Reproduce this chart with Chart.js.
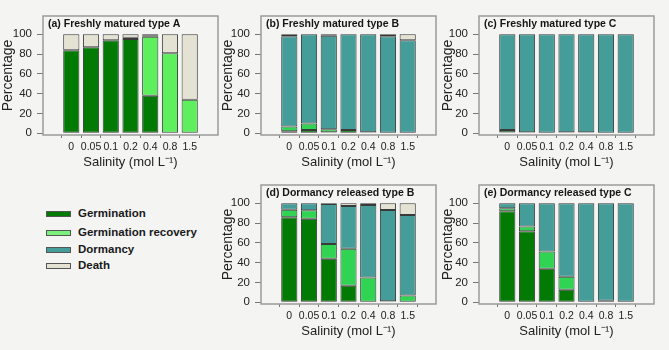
<!DOCTYPE html>
<html>
<head>
<meta charset="utf-8">
<script src="https://cdn.jsdelivr.net/npm/chart.js@4.4.1/dist/chart.umd.min.js"></script>
<style>
  body { margin: 0; background: #f4f4f3; font-family: "Liberation Sans", Arial, sans-serif; }
  #wrap { position: relative; width: 669px; height: 350px; overflow: hidden; }
  canvas { position: absolute; }
  .leg { position: absolute; left: 46px; font-weight: bold; font-size: 11.5px; color: #1a1a1a; }
  .leg span.sw { display: inline-block; width: 23px; height: 4px; border: 1px solid #555; vertical-align: middle; margin-right: 7px; }
</style>
</head>
<body>
<div id="wrap">
  <canvas id="pa" width="220" height="170" style="left:0;top:0"></canvas>
  <canvas id="pb" width="220" height="170" style="left:220px;top:0"></canvas>
  <canvas id="pc" width="229" height="170" style="left:440px;top:0"></canvas>
  <canvas id="pd" width="220" height="170" style="left:220px;top:169px"></canvas>
  <canvas id="pe" width="229" height="170" style="left:440px;top:169px"></canvas>

  <div class="leg" style="top:207px"><span class="sw" style="background:#037a03"></span>Germination</div>
  <div class="leg" style="top:226px"><span class="sw" style="background:#7cf07c"></span>Germination recovery</div>
  <div class="leg" style="top:243px"><span class="sw" style="background:#449d98"></span>Dormancy</div>
  <div class="leg" style="top:259px"><span class="sw" style="background:#e4e2d2"></span>Death</div>
</div>
<script>
// salinity levels (mol L-1)
var salinity = ['0', '0.05', '0.1', '0.2', '0.4', '0.8', '1.5'];
var yTicks = [0, 20, 40, 60, 80, 100];

// (a) Freshly matured type A
var germA  = [84, 87, 94, 95.3, 38, 0, 0];
var recA   = [0, 0, 0, 1.3, 59.5, 81, 34];
var dormA  = [0, 0, 0, 0, 1.5, 0, 0];
var deathA = [16, 13, 6, 3.4, 1, 19, 66];

// (b) Freshly matured type B
var germB  = [2, 3.4, 1, 3.4, 1, 0, 0];
var recB   = [5, 6.6, 3, 0, 0, 0, 0];
var dormB  = [91, 90, 94.6, 96.6, 99, 98, 94];
var deathB = [2, 0, 1.4, 0, 0, 2, 6];

// (c) Freshly matured type C
var germC  = [1, 0, 0, 1, 1, 0, 0];
var recC   = [2.4, 1, 0, 0, 0, 0, 0];
var dormC  = [96.6, 99, 100, 99, 99, 100, 100];
var deathC = [0, 0, 0, 0, 0, 0, 0];

// (d) Dormancy released type B
var germD  = [86, 84.3, 44, 16.7, 0, 0, 0];
var recD   = [7.6, 8.7, 15, 37.5, 25, 1, 7];
var dormD  = [6.4, 7, 40.3, 43, 73.3, 92.3, 81.3];
var deathD = [0, 0, 0.7, 2.8, 1.7, 6.7, 11.7];

// (e) Dormancy released type C
var germE  = [92, 71.9, 33.8, 12.6, 0, 0, 0];
var recE   = [3, 4.6, 17.5, 13.2, 0, 1.5, 0];
var dormE  = [5, 23.5, 48.7, 74.2, 100, 98.5, 100];
var deathE = [0, 0, 0, 0, 0, 0, 0];

var FONT = '"Liberation Sans", Arial, sans-serif';

// frame around the plot area + panel title inside it
var framePlugin = {
    id: 'frame',
    afterDatasetsDraw: function (chart) {
        var a = chart.chartArea, ctx = chart.ctx;
        ctx.save();
        ctx.strokeStyle = '#9a9a9a';
        ctx.lineWidth = 1.5;
        ctx.strokeRect(a.left, a.top, a.right - a.left, a.bottom - a.top);
        ctx.fillStyle = '#151515';
        ctx.font = 'bold 10.5px ' + FONT;
        ctx.textBaseline = 'middle';
        ctx.fillText(chart.options.plugins.frame.text, a.left + 5, a.top + 8);
        ctx.restore();
    }
};

// zero segments are left out so no stray outline is drawn
function pts(arr) {
    return arr.map(function (v, i) { return { x: i, y: v === 0 ? null : v }; });
}

function makePanel(id, title, germ, rec, dorm, death, recColor, yWidth, padRight) {
    var ctx = document.getElementById(id).getContext('2d');
    var ds = function (label, data, color) {
        return {
            label: label,
            data: pts(data),
            backgroundColor: color,
            borderColor: '#3a3a3a',
            borderWidth: 1,
            borderSkipped: false,
            barPercentage: 0.82,
            categoryPercentage: 1
        };
    };
    return new Chart(ctx, {
        type: 'bar',
        data: {
            datasets: [
                ds('Germination', germ, '#037a03'),
                ds('Germination recovery', rec, recColor),
                ds('Dormancy', dorm, '#449d98'),
                ds('Death', death, '#e4e2d2')
            ]
        },
        plugins: [framePlugin],
        options: {
            responsive: false,
            animation: false,
            layout: { padding: { left: 0, top: 16, right: padRight, bottom: 0 } },
            plugins: {
                legend: { display: false },
                tooltip: { enabled: false },
                frame: { text: title }
            },
            scales: {
                x: {
                    type: 'linear',
                    stacked: true,
                    min: -0.8,
                    max: 6.8,
                    afterBuildTicks: function (s) {
                        s.ticks = salinity.map(function (_, i) { return { value: i }; });
                    },
                    afterFit: function (s) { s.height = 35; },
                    grid: { drawOnChartArea: false, drawTicks: true, tickLength: 3, color: '#777' },
                    border: { display: false },
                    ticks: {
                        padding: 3,
                        maxRotation: 0,
                        minRotation: 0,
                        autoSkip: false,
                        color: '#222',
                        font: { family: FONT, size: 10.5 },
                        callback: function (v) { return salinity[v]; }
                    },
                    title: {
                        display: true,
                        text: 'Salinity (mol L\u207B\u00B9)',
                        color: '#222',
                        padding: { top: 0, bottom: 0 },
                        font: { family: FONT, size: 13 }
                    }
                },
                y: {
                    stacked: true,
                    min: -1.7,
                    max: 118.5,
                    afterBuildTicks: function (s) {
                        s.ticks = yTicks.map(function (v) { return { value: v }; });
                    },
                    afterFit: function (s) { s.width = yWidth; },
                    grid: { drawOnChartArea: false, drawTicks: true, tickLength: 6, color: '#777' },
                    border: { display: false },
                    ticks: {
                        padding: 5,
                        color: '#222',
                        font: { family: FONT, size: 11.5 }
                    },
                    title: {
                        display: true,
                        text: 'Percentage',
                        color: '#222',
                        padding: { top: 0, bottom: 0 },
                        font: { family: FONT, size: 14 }
                    }
                }
            }
        }
    });
}

makePanel('pa', '(a) Freshly matured type A', germA, recA, dormA, deathA, '#5def5d', 43, 2);
makePanel('pb', '(b) Freshly matured type B', germB, recB, dormB, deathB, '#30d352', 41, 4);
makePanel('pc', '(c) Freshly matured type C', germC, recC, dormC, deathC, '#30d352', 39, 15);
makePanel('pd', '(d) Dormancy released type B', germD, recD, dormD, deathD, '#30d352', 41, 4);
makePanel('pe', '(e) Dormancy released type C', germE, recE, dormE, deathE, '#30d352', 39, 15);
</script>
</body>
</html>
